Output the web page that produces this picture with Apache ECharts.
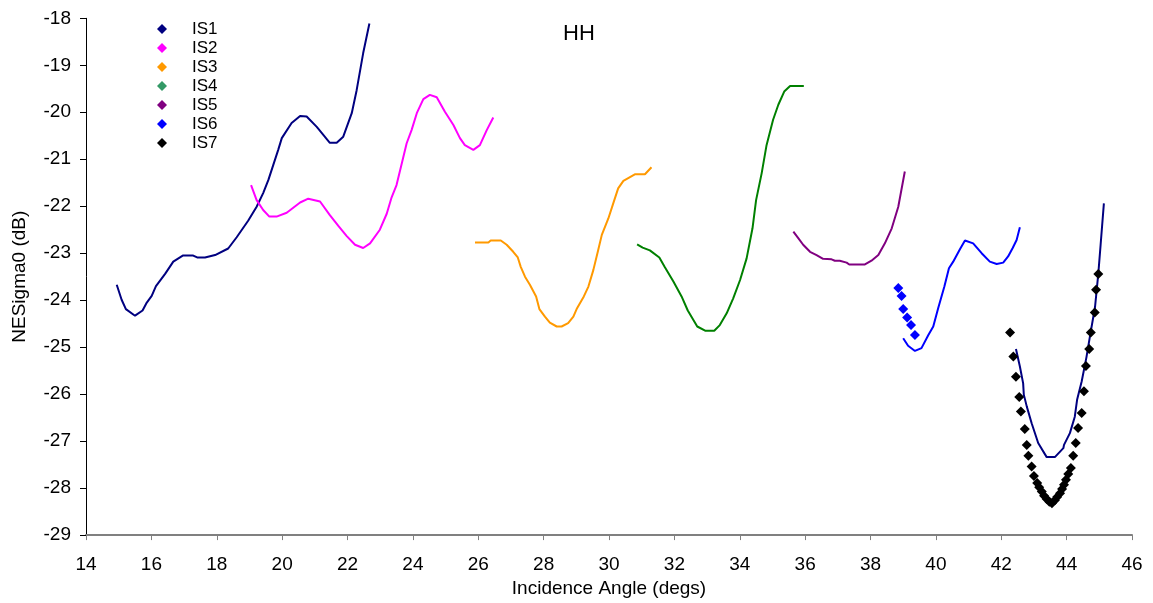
<!DOCTYPE html>
<html>
<head>
<meta charset="utf-8">
<script src="https://cdn.jsdelivr.net/npm/echarts@6/dist/echarts.min.js"></script>
<style>
html,body{margin:0;padding:0;background:#fff;}
#chart{width:1153px;height:603px;}
</style>
</head>
<body>
<div id="chart"></div>
<script>
// ---- data: [incidence angle (deg), NESigma0 (dB)] ----
var xTicks = [14,16,18,20,22,24,26,28,30,32,34,36,38,40,42,44,46];
var yTicks = [-29,-28,-27,-26,-25,-24,-23,-22,-21,-20,-19,-18];
var legendNames = ['IS1','IS2','IS3','IS4','IS5','IS6','IS7'];

var is1Line = [[14.94,-23.67],[15.09,-23.99],[15.22,-24.19],[15.50,-24.33],[15.73,-24.22],[15.86,-24.05],[16.01,-23.91],[16.14,-23.70],[16.42,-23.44],[16.67,-23.18],[16.96,-23.05],[17.28,-23.05],[17.40,-23.09],[17.64,-23.09],[17.95,-23.04],[18.35,-22.90],[18.61,-22.66],[18.96,-22.31],[19.22,-22.01],[19.42,-21.72],[19.58,-21.44],[19.73,-21.12],[19.88,-20.80],[19.99,-20.55],[20.29,-20.23],[20.55,-20.08],[20.75,-20.09],[21.06,-20.31],[21.46,-20.65],[21.67,-20.65],[21.87,-20.52],[22.13,-20.02],[22.28,-19.53],[22.48,-18.74],[22.67,-18.11]];
var is2Line = [[19.05,-21.55],[19.22,-21.87],[19.42,-22.08],[19.61,-22.22],[19.83,-22.22],[20.14,-22.14],[20.55,-21.92],[20.80,-21.84],[21.16,-21.90],[21.46,-22.19],[21.72,-22.42],[21.97,-22.63],[22.23,-22.82],[22.48,-22.89],[22.69,-22.79],[22.99,-22.50],[23.20,-22.16],[23.35,-21.81],[23.50,-21.55],[23.66,-21.09],[23.81,-20.66],[23.96,-20.38],[24.12,-20.02],[24.32,-19.72],[24.52,-19.63],[24.73,-19.68],[24.98,-19.99],[25.24,-20.27],[25.44,-20.55],[25.59,-20.70],[25.85,-20.80],[26.05,-20.70],[26.26,-20.38],[26.46,-20.11]];
var is3Line = [[25.90,-22.77],[26.31,-22.77],[26.38,-22.73],[26.69,-22.73],[26.87,-22.82],[27.07,-22.97],[27.21,-23.09],[27.30,-23.29],[27.43,-23.50],[27.58,-23.67],[27.77,-23.92],[27.87,-24.19],[28.04,-24.35],[28.19,-24.48],[28.40,-24.56],[28.55,-24.56],[28.75,-24.49],[28.91,-24.35],[29.01,-24.19],[29.23,-23.92],[29.37,-23.71],[29.52,-23.36],[29.67,-22.93],[29.78,-22.61],[29.98,-22.26],[30.13,-21.94],[30.28,-21.62],[30.44,-21.46],[30.79,-21.32],[31.10,-21.32],[31.30,-21.17]];
var is4Line = [[30.86,-22.81],[31.03,-22.88],[31.25,-22.94],[31.54,-23.09],[31.71,-23.30],[31.97,-23.60],[32.22,-23.92],[32.41,-24.22],[32.70,-24.56],[32.94,-24.65],[33.22,-24.65],[33.39,-24.53],[33.60,-24.28],[33.80,-23.96],[34.01,-23.57],[34.21,-23.11],[34.39,-22.47],[34.50,-21.87],[34.67,-21.30],[34.82,-20.70],[35.02,-20.16],[35.18,-19.84],[35.36,-19.56],[35.54,-19.44],[35.96,-19.44]];
var is5Line = [[35.64,-22.54],[35.79,-22.68],[35.94,-22.82],[36.15,-22.97],[36.35,-23.04],[36.55,-23.12],[36.81,-23.13],[36.91,-23.16],[37.06,-23.16],[37.12,-23.20],[37.27,-23.20],[37.35,-23.24],[37.83,-23.24],[38.03,-23.16],[38.24,-23.04],[38.44,-22.79],[38.65,-22.47],[38.85,-22.01],[39.05,-21.26]];
var is6Line = [[39.00,-24.81],[39.15,-24.97],[39.36,-25.08],[39.56,-25.02],[39.77,-24.74],[39.92,-24.56],[40.07,-24.17],[40.26,-23.71],[40.40,-23.32],[40.53,-23.18],[40.74,-22.91],[40.89,-22.73],[41.14,-22.79],[41.40,-23.00],[41.65,-23.18],[41.86,-23.23],[42.06,-23.20],[42.21,-23.07],[42.35,-22.89],[42.47,-22.72],[42.57,-22.45]];
var is7Line = [[42.45,-25.04],[42.57,-25.41],[42.67,-25.77],[42.69,-26.01],[42.78,-26.26],[42.93,-26.62],[43.13,-27.04],[43.39,-27.34],[43.64,-27.34],[43.90,-27.15],[43.92,-27.08],[44.10,-26.83],[44.25,-26.48],[44.32,-26.12],[44.46,-25.73],[44.61,-25.20],[44.73,-24.70],[44.87,-24.14],[44.97,-23.43],[45.04,-22.82],[45.14,-21.94]];

var is1Points = [];
var is2Points = [];
var is3Points = [];
var is4Points = [];
var is5Points = [];
var is6Points = [[38.85,-23.74],[38.95,-23.91],[39.00,-24.19],[39.12,-24.37],[39.24,-24.53],[39.36,-24.74]];
var is7Points = [[42.27,-24.69],[42.37,-25.20],[42.45,-25.63],[42.55,-26.06],[42.60,-26.37],[42.72,-26.74],[42.78,-27.08],[42.83,-27.31],[42.93,-27.54],[43.00,-27.74],[43.10,-27.89],[43.16,-27.98],[43.24,-28.07],[43.31,-28.16],[43.39,-28.23],[43.47,-28.29],[43.55,-28.32],[43.64,-28.26],[43.71,-28.19],[43.80,-28.11],[43.86,-28.02],[43.92,-27.93],[43.98,-27.82],[44.05,-27.70],[44.13,-27.57],[44.20,-27.31],[44.28,-27.04],[44.35,-26.72],[44.46,-26.40],[44.53,-25.94],[44.59,-25.40],[44.69,-25.04],[44.74,-24.69],[44.86,-24.26],[44.90,-23.78],[44.97,-23.44]];

// ---- chart ----
var FONT = '"Liberation Sans", Arial, sans-serif';
var chart = echarts.init(document.getElementById('chart'), null, {renderer:'canvas'});

function lineSeries(name, data, color){
  return {name:name, type:'line', data:data, showSymbol:false, symbol:'none',
    lineStyle:{color:color, width:2}, itemStyle:{color:color}, smooth:false,
    animation:false, z:2};
}
function pointSeries(name, data, color){
  return {name:name, type:'scatter', data:data, symbol:'diamond', symbolSize:10,
    itemStyle:{color:color, opacity:1}, animation:false, z:3};
}

var option = {
  backgroundColor:'#ffffff',
  animation:false,
  title:{text:'HH', left:574, top:18, textAlign:'center',
    textStyle:{fontFamily:FONT, fontSize:22, fontWeight:'normal', color:'#000'}},
  legend:{data:legendNames, orient:'vertical', left:152, top:15.5,
    itemWidth:10, itemHeight:10, itemGap:2, icon:'diamond',
    inactiveColor:'#ccc',
    textStyle:{fontFamily:FONT, fontSize:17, color:'#000', padding:[0,0,0,20]}},
  grid:{left:86, right:21, top:18.3, bottom:67.7, containLabel:false},
  xAxis:{type:'value', min:14, max:46, interval:2,
    name:'Incidence Angle (degs)', nameLocation:'middle', nameGap:43,
    nameTextStyle:{fontFamily:FONT, fontSize:19, color:'#000'},
    axisLine:{onZero:false, lineStyle:{color:'#808080', width:2}},
    axisTick:{inside:false, length:5, lineStyle:{color:'#808080', width:1}},
    axisLabel:{fontFamily:FONT, fontSize:19, color:'#000', margin:20,
      formatter:function(v){return xTicks.indexOf(v)>=0? String(v):'';}},
    splitLine:{show:false}},
  yAxis:{type:'value', min:-29, max:-18, interval:1,
    name:'NESigma0 (dB)', nameLocation:'middle', nameGap:57, nameRotate:90,
    nameTextStyle:{fontFamily:FONT, fontSize:19, color:'#000'},
    axisLine:{onZero:false, lineStyle:{color:'#000', width:1}},
    axisTick:{inside:false, length:6, lineStyle:{color:'#000', width:1}},
    axisLabel:{fontFamily:FONT, fontSize:19, color:'#000', margin:15,
      formatter:function(v){return yTicks.indexOf(v)>=0? String(v):'';}},
    splitLine:{show:false}},
  series:[
    lineSeries('IS1 Ref', is1Line, '#000080'),
    lineSeries('IS2 Ref', is2Line, '#FF00FF'),
    lineSeries('IS3 Ref', is3Line, '#FF9900'),
    lineSeries('IS4 Ref', is4Line, '#008000'),
    lineSeries('IS5 Ref', is5Line, '#800080'),
    lineSeries('IS6 Ref', is6Line, '#0000FF'),
    lineSeries('IS7 Ref', is7Line, '#000080'),
    pointSeries('IS1', is1Points, '#000080'),
    pointSeries('IS2', is2Points, '#FF00FF'),
    pointSeries('IS3', is3Points, '#FF9900'),
    pointSeries('IS4', is4Points, '#339966'),
    pointSeries('IS5', is5Points, '#800080'),
    pointSeries('IS6', is6Points, '#0000FF'),
    pointSeries('IS7', is7Points, '#000000')
  ]
};
chart.setOption(option);
</script>
</body>
</html>
